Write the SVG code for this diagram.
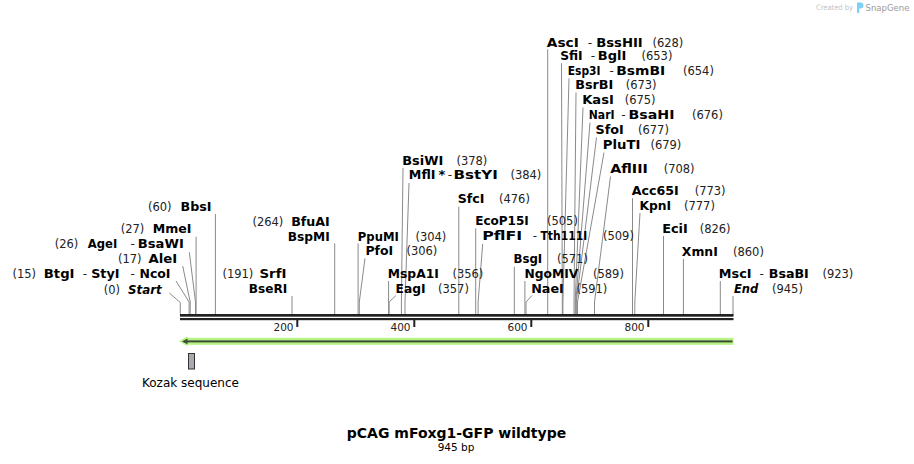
<svg xmlns="http://www.w3.org/2000/svg" width="914" height="464" viewBox="0 0 914 464">
<style>
text{font-family:"DejaVu Sans","Verdana",sans-serif;fill:#000}
.n{font-weight:bold;font-size:13px}
.i{font-weight:bold;font-style:italic;font-size:13px}
.d{font-size:12px;fill:#222}
.p{font-size:11.5px;fill:#222}
.c{fill:none;stroke:#8a8a8a;stroke-width:1}
.tk{font-size:10.5px;fill:#222}
</style>
<rect width="914" height="464" fill="#fff"/>

<g id="watermark">
<text x="816" y="10" style="font-size:7.5px;fill:#c4c4c4" textLength="37" lengthAdjust="spacingAndGlyphs">Created by</text>
<path d="M857 2.5 h3.5 a3 3 0 0 1 0 6 h-1.2 v4.5 h-2.3 z" fill="#7fd0f5"/>
<text x="865.5" y="11" style="font-size:9px;fill:#9a9a9a" textLength="44" lengthAdjust="spacingAndGlyphs">SnapGene</text>
</g>

<g id="connectors">
<polyline class="c" points="215.4,214 215.4,315"/>
<polyline class="c" points="196.1,236.7 196.1,315"/>
<polyline class="c" points="189.3,252.3 195.5,302 195.5,315"/>
<polyline class="c" points="182.7,266 190.2,302 190.2,315"/>
<polyline class="c" points="176,281 189.1,302 189.1,315"/>
<polyline class="c" points="169.3,293 180.3,302.5 180.3,315"/>
<polyline class="c" points="292,296 292,315"/>
<polyline class="c" points="334.7,243.3 334.7,315"/>
<polyline class="c" points="358.1,243.3 358.1,315"/>
<polyline class="c" points="365,258.3 359.3,302 359.3,315"/>
<polyline class="c" points="388.6,281 388.6,315"/>
<polyline class="c" points="396,295.5 389.1,302 389.1,315"/>
<polyline class="c" points="403,168 401.4,302 401.4,315"/>
<polyline class="c" points="409,183 405,302 405,315"/>
<polyline class="c" points="458.8,206.7 458.8,315"/>
<polyline class="c" points="475.7,228.3 475.7,315"/>
<polyline class="c" points="482.7,244 478.1,302 478.1,315"/>
<polyline class="c" points="514.3,266.7 514.3,315"/>
<polyline class="c" points="524.9,281 524.9,315"/>
<polyline class="c" points="532,295.5 526,302 526,315"/>
<polyline class="c" points="547.7,49.3 547.7,315"/>
<polyline class="c" points="561.5,63.3 562.3,302 562.3,315"/>
<polyline class="c" points="569,78.3 562.9,302 562.9,315"/>
<polyline class="c" points="576,92.5 574,302 574,315"/>
<polyline class="c" points="583,107.5 575.2,302 575.2,315"/>
<polyline class="c" points="590,122.5 575.8,302 575.8,315"/>
<polyline class="c" points="596.5,137.5 576.3,302 576.3,315"/>
<polyline class="c" points="604,152.5 577.5,302 577.5,315"/>
<polyline class="c" points="610.5,176.5 594.5,302 594.5,315"/>
<polyline class="c" points="632.5,198.3 632.5,315"/>
<polyline class="c" points="640,213 634.8,302 634.8,315"/>
<polyline class="c" points="663.5,236 663.5,315"/>
<polyline class="c" points="683.4,259 683.4,315"/>
<polyline class="c" points="720.3,281 720.3,315"/>
<polyline class="c" points="733,296 733,315"/>
</g>

<g id="ruler">
<rect x="180" y="314" width="553.5" height="2.7" fill="#222"/>
<rect x="180" y="318" width="553.5" height="2.2" fill="#222"/>
<rect x="296.3" y="320" width="2" height="7" fill="#222"/>
<rect x="413.3" y="320" width="2" height="7" fill="#222"/>
<rect x="530.3" y="320" width="2" height="7" fill="#222"/>
<rect x="647.3" y="320" width="2" height="7" fill="#222"/>
<text class="tk" x="293.5" y="331" text-anchor="end">200</text>
<text class="tk" x="410.5" y="331" text-anchor="end">400</text>
<text class="tk" x="527.5" y="331" text-anchor="end">600</text>
<text class="tk" x="644.5" y="331" text-anchor="end">800</text>
</g>

<g id="feature-arrow">
<rect x="185" y="337.8" width="548.5" height="7" fill="#b6f385"/>
<polygon points="179,341.3 187.5,336.3 187.5,346.3" fill="#b6f385"/>
<rect x="186" y="340.4" width="546.5" height="2" fill="#3e4b35"/>
<polygon points="182,341.4 187.5,338.6 187.5,344.2" fill="#3e4b35"/>
</g>

<g id="kozak">
<rect x="188.5" y="353.5" width="6" height="15.5" fill="#a6abb1" stroke="#333" stroke-width="1"/>
<text x="142" y="387" style="font-size:12px">Kozak sequence</text>
</g>

<g id="title">
<text x="456.5" y="438" text-anchor="middle" style="font-size:14px;font-weight:bold">pCAG mFoxg1-GFP wildtype</text>
<text x="456" y="451" text-anchor="middle" style="font-size:10.5px">945 bp</text>
</g>

<g id="site-BbsI"><text class="p" x="148" y="211">(60)</text><text class="n" x="180.5" y="211" textLength="31" lengthAdjust="spacingAndGlyphs">BbsI</text></g>
<g id="site-MmeI"><text class="p" x="120.7" y="233.3">(27)</text><text class="n" x="152.8" y="233.3" textLength="38.7" lengthAdjust="spacingAndGlyphs">MmeI</text></g>
<g id="site-AgeI"><text class="p" x="54.7" y="248.3">(26)</text><text class="n" x="87.8" y="248.3" textLength="29.4" lengthAdjust="spacingAndGlyphs">AgeI</text><text class="d" x="130.6" y="248.3">-</text><text class="n" x="137.8" y="248.3" textLength="46" lengthAdjust="spacingAndGlyphs">BsaWI</text></g>
<g id="site-AleI"><text class="p" x="118" y="263.3">(17)</text><text class="n" x="148.5" y="263.3" textLength="28.7" lengthAdjust="spacingAndGlyphs">AleI</text></g>
<g id="site-BtgI"><text class="p" x="12.4" y="278.3">(15)</text><text class="n" x="43.8" y="278.3" textLength="30.7" lengthAdjust="spacingAndGlyphs">BtgI</text><text class="d" x="82.8" y="278.3">-</text><text class="n" x="91.2" y="278.3" textLength="28.3" lengthAdjust="spacingAndGlyphs">StyI</text><text class="d" x="130.5" y="278.3">-</text><text class="n" x="139.5" y="278.3" textLength="31" lengthAdjust="spacingAndGlyphs">NcoI</text></g>
<g id="site-Start"><text class="p" x="103.7" y="294">(0)</text><text class="i" x="128" y="294" textLength="33.7" lengthAdjust="spacingAndGlyphs">Start</text></g>
<g id="site-SrfI"><text class="p" x="222.4" y="278.3">(191)</text><text class="n" x="259.5" y="278.3" textLength="27" lengthAdjust="spacingAndGlyphs">SrfI</text><text class="n" x="248.8" y="292.7" textLength="38.4" lengthAdjust="spacingAndGlyphs">BseRI</text></g>
<g id="site-BfuAI"><text class="p" x="252.4" y="226">(264)</text><text class="n" x="291.2" y="226" textLength="38.6" lengthAdjust="spacingAndGlyphs">BfuAI</text><text class="n" x="287.8" y="240.7" textLength="42" lengthAdjust="spacingAndGlyphs">BspMI</text></g>
<g id="site-PpuMI"><text class="n" x="357.8" y="240.7" textLength="41" lengthAdjust="spacingAndGlyphs">PpuMI</text><text class="p" x="415.4" y="240.7">(304)</text></g>
<g id="site-PfoI"><text class="n" x="365.5" y="255" textLength="27.7" lengthAdjust="spacingAndGlyphs">PfoI</text><text class="p" x="406.4" y="255">(306)</text></g>
<g id="site-MspA1I"><text class="n" x="387.8" y="278.3" textLength="51" lengthAdjust="spacingAndGlyphs">MspA1I</text><text class="p" x="452.4" y="278.3">(356)</text></g>
<g id="site-EagI"><text class="n" x="395.5" y="293.3" textLength="30" lengthAdjust="spacingAndGlyphs">EagI</text><text class="p" x="438" y="293.3">(357)</text></g>
<g id="site-BsiWI"><text class="n" x="402.2" y="165" textLength="41" lengthAdjust="spacingAndGlyphs">BsiWI</text><text class="p" x="456.4" y="165">(378)</text></g>
<g id="site-MflI"><text class="n" x="408.8" y="179.3" textLength="26.7" lengthAdjust="spacingAndGlyphs">MflI</text><text class="n" x="438.6" y="179.3">*</text><text class="d" x="447.8" y="179.3">-</text><text class="n" x="453.5" y="179.3" textLength="44.3" lengthAdjust="spacingAndGlyphs">BstYI</text><text class="p" x="510.4" y="179.3">(384)</text></g>
<g id="site-SfcI"><text class="n" x="457.8" y="203.3" textLength="26.7" lengthAdjust="spacingAndGlyphs">SfcI</text><text class="p" x="499" y="203.3">(476)</text></g>
<g id="site-EcoP15I"><text class="n" x="475.2" y="225" textLength="53.6" lengthAdjust="spacingAndGlyphs">EcoP15I</text><text class="p" x="547" y="225">(505)</text></g>
<g id="site-PflFI"><text class="n" x="482.2" y="240" textLength="40" lengthAdjust="spacingAndGlyphs">PflFI</text><text class="d" x="532.8" y="240">-</text><text class="n" x="540.5" y="240" textLength="46.7" lengthAdjust="spacingAndGlyphs">Tth111I</text><text class="p" x="603" y="240">(509)</text></g>
<g id="site-BsgI"><text class="n" x="513.5" y="263.3" textLength="28.7" lengthAdjust="spacingAndGlyphs">BsgI</text><text class="p" x="557" y="263.3">(571)</text></g>
<g id="site-NgoMIV"><text class="n" x="524.5" y="278.3" textLength="53.7" lengthAdjust="spacingAndGlyphs">NgoMIV</text><text class="p" x="593" y="278.3">(589)</text></g>
<g id="site-NaeI"><text class="n" x="531.2" y="293" textLength="32.6" lengthAdjust="spacingAndGlyphs">NaeI</text><text class="p" x="576.4" y="293">(591)</text></g>
<g id="site-AscI"><text class="n" x="546.8" y="46.7" textLength="32" lengthAdjust="spacingAndGlyphs">AscI</text><text class="d" x="587.8" y="46.7">-</text><text class="n" x="596.2" y="46.7" textLength="46.6" lengthAdjust="spacingAndGlyphs">BssHII</text><text class="p" x="652.4" y="46.7">(628)</text></g>
<g id="site-SfiI"><text class="n" x="560.2" y="60" textLength="22.5" lengthAdjust="spacingAndGlyphs">SfiI</text><text class="d" x="590.8" y="60">-</text><text class="n" x="597.8" y="60">BglI</text><text class="p" x="641.5" y="60">(653)</text></g>
<g id="site-Esp3I"><text class="n" x="567.8" y="75" textLength="32.7" lengthAdjust="spacingAndGlyphs">Esp3I</text><text class="d" x="609.5" y="75">-</text><text class="n" x="616.2" y="75" textLength="49" lengthAdjust="spacingAndGlyphs">BsmBI</text><text class="p" x="683" y="75">(654)</text></g>
<g id="site-BsrBI"><text class="n" x="575.2" y="89.3" textLength="38" lengthAdjust="spacingAndGlyphs">BsrBI</text><text class="p" x="625.7" y="89.3">(673)</text></g>
<g id="site-KasI"><text class="n" x="582.2" y="104.3" textLength="31.6" lengthAdjust="spacingAndGlyphs">KasI</text><text class="p" x="624.7" y="104.3">(675)</text></g>
<g id="site-NarI"><text class="n" x="588.8" y="119.3" textLength="25.7" lengthAdjust="spacingAndGlyphs">NarI</text><text class="d" x="621.2" y="119.3">-</text><text class="n" x="628.5" y="119.3" textLength="46" lengthAdjust="spacingAndGlyphs">BsaHI</text><text class="p" x="692" y="119.3">(676)</text></g>
<g id="site-SfoI"><text class="n" x="595.5" y="134" textLength="28.3" lengthAdjust="spacingAndGlyphs">SfoI</text><text class="p" x="638" y="134">(677)</text></g>
<g id="site-PluTI"><text class="n" x="602.8" y="149" textLength="37.7" lengthAdjust="spacingAndGlyphs">PluTI</text><text class="p" x="650.4" y="149">(679)</text></g>
<g id="site-AflIII"><text class="n" x="610.2" y="173.3" textLength="37.6" lengthAdjust="spacingAndGlyphs">AflIII</text><text class="p" x="663.7" y="173.3">(708)</text></g>
<g id="site-Acc65I"><text class="n" x="631.8" y="195" textLength="47" lengthAdjust="spacingAndGlyphs">Acc65I</text><text class="p" x="694.7" y="195">(773)</text></g>
<g id="site-KpnI"><text class="n" x="639.5" y="210" textLength="31.7" lengthAdjust="spacingAndGlyphs">KpnI</text><text class="p" x="684" y="210">(777)</text></g>
<g id="site-EciI"><text class="n" x="662.2" y="232.7" textLength="25.6" lengthAdjust="spacingAndGlyphs">EciI</text><text class="p" x="699.7" y="232.7">(826)</text></g>
<g id="site-XmnI"><text class="n" x="681.8" y="256" textLength="36" lengthAdjust="spacingAndGlyphs">XmnI</text><text class="p" x="733" y="256">(860)</text></g>
<g id="site-MscI"><text class="n" x="718.8" y="278.3" textLength="32.7" lengthAdjust="spacingAndGlyphs">MscI</text><text class="d" x="759.5" y="278.3">-</text><text class="n" x="768.8" y="278.3" textLength="40" lengthAdjust="spacingAndGlyphs">BsaBI</text><text class="p" x="822.4" y="278.3">(923)</text></g>
<g id="site-End"><text class="i" x="734" y="293.3" textLength="24.3" lengthAdjust="spacingAndGlyphs">End</text><text class="p" x="772" y="293.3">(945)</text></g>
</svg>
